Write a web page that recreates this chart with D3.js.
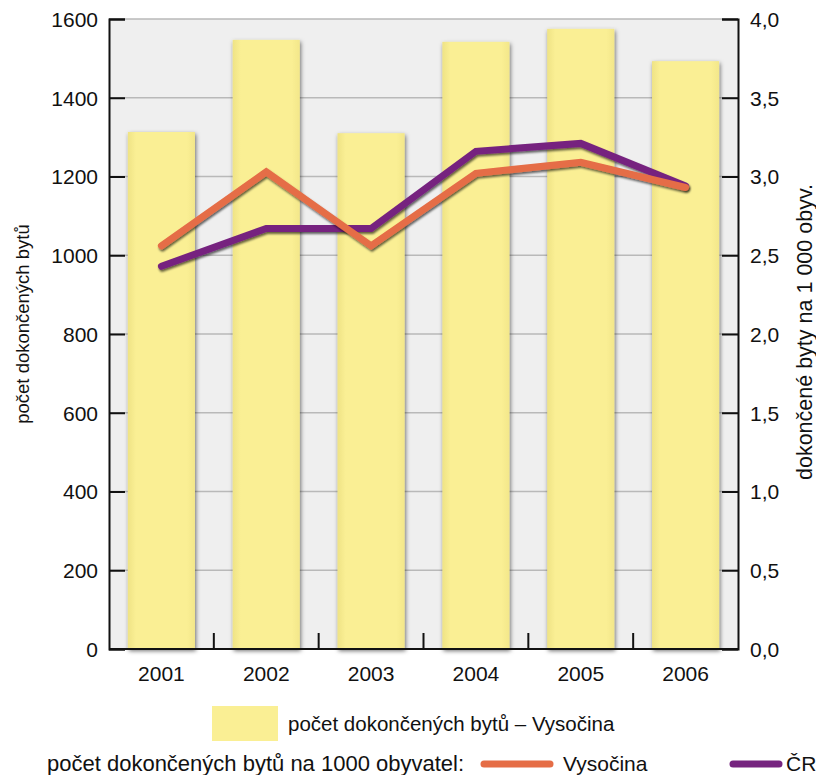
<!DOCTYPE html>
<html>
<head>
<meta charset="utf-8">
<script src="https://cdn.jsdelivr.net/npm/d3@7"></script>
<style>
  body { margin: 0; background: #fff; }
  text { font-family: "Liberation Sans", Arial, sans-serif; fill: #111; }
</style>
</head>
<body>
<svg id="chart" width="816" height="775"></svg>
<script>
// data
var years = ["2001", "2002", "2003", "2004", "2005", "2006"];
var bytyVysocina = [1313, 1547, 1310, 1542, 1575, 1493];
var naObyvVysocina = [2.56, 3.03, 2.56, 3.02, 3.09, 2.93];
var naObyvCR = [2.43, 2.67, 2.67, 3.16, 3.21, 2.94];
var leftTicks = [0, 200, 400, 600, 800, 1000, 1200, 1400, 1600];
var rightTicks = [0, 0.5, 1, 1.5, 2, 2.5, 3, 3.5, 4];

var svg = d3.select("#chart");
var pLeft = 109, pRight = 738, pTop = 19, pBottom = 649;

var x = d3.scaleBand().domain(years).range([pLeft, pRight]).paddingInner(0.36).paddingOuter(0.18);
var xc = d3.scaleBand().domain(years).range([pLeft, pRight]);
var yL = d3.scaleLinear().domain([0, 1600]).range([pBottom, pTop]);
var yR = d3.scaleLinear().domain([0, 4]).range([pBottom, pTop]);

var defs = svg.append("defs");
var f = defs.append("filter").attr("id", "barShadow").attr("x", "-20%").attr("y", "-5%").attr("width", "140%").attr("height", "110%");
f.append("feDropShadow").attr("dx", 1).attr("dy", 2).attr("stdDeviation", 2).attr("flood-color", "#000").attr("flood-opacity", 0.55);
var f2 = defs.append("filter").attr("id", "lineShadow").attr("x", "-10%").attr("y", "-20%").attr("width", "120%").attr("height", "140%");
f2.append("feDropShadow").attr("dx", 1).attr("dy", 2).attr("stdDeviation", 1.2).attr("flood-color", "#000").attr("flood-opacity", 0.6);
var g = defs.append("linearGradient").attr("id", "barFill").attr("x1", 0).attr("x2", 1);
g.append("stop").attr("offset", "0%").attr("stop-color", "#efe385");
g.append("stop").attr("offset", "12%").attr("stop-color", "#faef94");
g.append("stop").attr("offset", "88%").attr("stop-color", "#faef94");
g.append("stop").attr("offset", "100%").attr("stop-color", "#f3e78a");

// plot background
svg.append("rect").attr("x", pLeft).attr("y", pTop).attr("width", pRight - pLeft).attr("height", pBottom - pTop)
  .attr("fill", "#efefef");

// gridlines
svg.append("g").selectAll("line").data(leftTicks.slice(1)).join("line")
  .attr("x1", pLeft).attr("x2", pRight)
  .attr("y1", d => yL(d)).attr("y2", d => yL(d))
  .attr("stroke", "#b9b9b9").attr("stroke-width", 1.5);

// bars
svg.append("g").selectAll("rect").data(years).join("rect")
  .attr("x", d => x(d)).attr("width", x.bandwidth())
  .attr("y", (d, i) => yL(bytyVysocina[i]))
  .attr("height", (d, i) => pBottom - yL(bytyVysocina[i]))
  .attr("fill", "url(#barFill)")
  .attr("filter", "url(#barShadow)");

// lines
var line = d3.line().x((d, i) => xc(years[i]) + xc.bandwidth() / 2).y(d => yR(d));
[[naObyvCR, "#76247f"], [naObyvVysocina, "#e56d46"]].forEach(function (s) {
  svg.append("path").datum(s[0]).attr("d", line)
    .attr("fill", "none").attr("stroke", s[1]).attr("stroke-width", 7)
    .attr("stroke-linejoin", "miter").attr("stroke-linecap", "round")
    .attr("filter", "url(#lineShadow)");
});

// axes
var axL = svg.append("g").attr("transform", "translate(" + pLeft + ",0)")
  .call(d3.axisLeft(yL).tickValues(leftTicks).tickSize(-16).tickPadding(11).tickFormat(d3.format("d")));
var axR = svg.append("g").attr("transform", "translate(" + pRight + ",0)")
  .call(d3.axisRight(yR).tickValues(rightTicks).tickSize(-16).tickPadding(12).tickFormat(d => d.toFixed(1).replace(".", ",")));
var axB = svg.append("g").attr("transform", "translate(0," + pBottom + ")")
  .call(d3.axisBottom(xc).tickSize(0).tickPadding(17));
[axL, axR, axB].forEach(function (a) {
  a.select(".domain").attr("stroke", "#111").attr("stroke-width", 2);
  a.selectAll(".tick line").attr("stroke", "#111").attr("stroke-width", 2);
  a.selectAll("text").attr("font-size", 21).attr("fill", "#111").attr("font-family", "Liberation Sans, Arial, sans-serif");
});
axL.selectAll("text").attr("dy", "0.35em");
axR.selectAll("text").attr("dy", "0.35em");
axB.select(".domain").attr("d", "M" + pLeft + ",0H" + pRight);

// category separator ticks on x axis
svg.append("g").selectAll("line").data(years.slice(1)).join("line")
  .attr("x1", d => xc(d)).attr("x2", d => xc(d))
  .attr("y1", pBottom).attr("y2", pBottom - 16)
  .attr("stroke", "#111").attr("stroke-width", 2);

// axis titles
svg.append("text").attr("transform", "translate(29,324) rotate(-90)")
  .attr("text-anchor", "middle").attr("font-size", 18.5).text("počet dokončených bytů");
svg.append("text").attr("transform", "translate(812,332) rotate(-90)")
  .attr("text-anchor", "middle").attr("font-size", 21.5).text("dokončené byty na 1 000 obyv.");

// legend
var lg = svg.append("g");
lg.append("rect").attr("x", 212).attr("y", 706).attr("width", 66).attr("height", 35).attr("fill", "#faef94");
lg.append("text").attr("x", 288).attr("y", 731).attr("font-size", 20.5).text("počet dokončených bytů – Vysočina");
lg.append("text").attr("x", 47).attr("y", 771).attr("font-size", 22).text("počet dokončených bytů na 1000 obyvatel:");
lg.append("line").attr("x1", 484).attr("x2", 550).attr("y1", 764).attr("y2", 764)
  .attr("stroke", "#e56d46").attr("stroke-width", 7).attr("stroke-linecap", "round");
lg.append("text").attr("x", 563).attr("y", 771).attr("font-size", 21).text("Vysočina");
lg.append("line").attr("x1", 733).attr("x2", 779).attr("y1", 764).attr("y2", 764)
  .attr("stroke", "#76247f").attr("stroke-width", 7).attr("stroke-linecap", "round");
lg.append("text").attr("x", 786).attr("y", 771).attr("font-size", 21).text("ČR");
</script>
</body>
</html>
